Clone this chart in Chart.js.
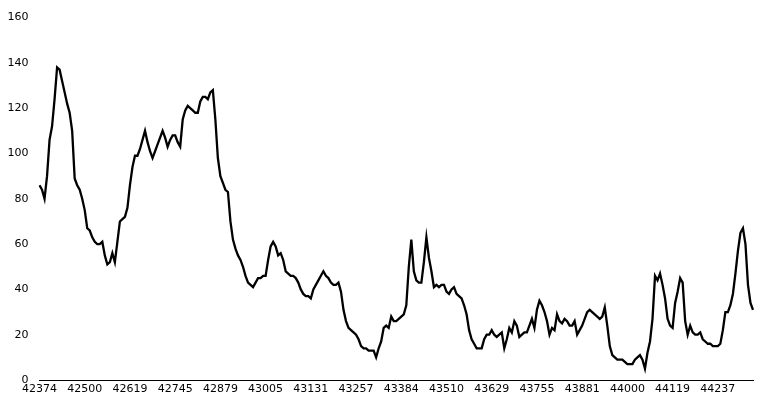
<!DOCTYPE html>
<html>
<head>
<meta charset="utf-8">
<script src="https://cdn.jsdelivr.net/npm/chart.js@4"></script>
<style>
  html, body { margin: 0; padding: 0; background: #fff; }
  #wrap { width: 765px; height: 411px; }
</style>
</head>
<body>
<div id="wrap"><canvas id="mycanvas" width="765" height="411"></canvas></div>
<script>
// tick labels on the x axis (one every 18 points)
var tickLabels = ['42374', '42500', '42619', '42745', '42879', '43005', '43131', '43257',
  '43384', '43510', '43629', '43755', '43881', '44000', '44119', '44237'];
var labelEvery = 18;

// series values
var values = [
  86, 84, 80, 90, 106, 112, 124, 138, 137, 132, 127, 122, 118, 110, 89, 86, 84, 80, 75, 67,
  66, 63, 61, 60, 60, 61, 55, 51, 52, 56, 52, 61, 70, 71, 72, 76, 86, 94, 99, 99,
  102, 106, 110, 105, 101, 98, 101, 104, 107, 110, 107, 103, 106, 108, 108, 105, 103, 115, 119, 121,
  120, 119, 118, 118, 123, 125, 125, 124, 127, 128, 115, 98, 90, 87, 84, 83, 70, 62, 58, 55,
  53, 50, 46, 43, 42, 41, 43, 45, 45, 46, 46, 53, 59, 61, 59, 55, 56, 53, 48, 47,
  46, 46, 45, 43, 40, 38, 37, 37, 36, 40, 42, 44, 46, 48, 46, 45, 43, 42, 42, 43,
  39, 31, 26, 23, 22, 21, 20, 18, 15, 14, 14, 13, 13, 13, 10, 14, 17, 23, 24, 23,
  28, 26, 26, 27, 28, 29, 33, 50, 62, 48, 44, 43, 43, 52, 63, 54, 48, 41, 42, 41,
  42, 42, 39, 38, 40, 41, 38, 37, 36, 33, 29, 22, 18, 16, 14, 14, 14, 18, 20, 20,
  22, 20, 19, 20, 21, 14, 18, 23, 21, 26, 24, 19, 20, 21, 21, 24, 27, 23, 31, 35,
  33, 30, 26, 20, 23, 22, 29, 26, 25, 27, 26, 24, 24, 26, 20, 22, 24, 27, 30, 31,
  30, 29, 28, 27, 28, 32, 24, 15, 11, 10, 9, 9, 9, 8, 7, 7, 7, 9, 10, 11,
  9, 5, 12, 17, 27, 46, 44, 47, 42, 36, 27, 24, 23, 34, 39, 45, 43, 26, 20, 24,
  21, 20, 20, 21, 18, 17, 16, 16, 15, 15, 15, 16, 22, 30, 30, 33, 38, 47, 57, 65,
  67, 60, 42, 34, 31
];

var categories = values.map(function(v, i) { return i; });
var tickFont = { family: 'DejaVu Sans', size: 11 };

var ctx = document.getElementById('mycanvas');
var lineGraph = new Chart(ctx, {
  type: 'line',
  data: {
    labels: categories,
    datasets: [{
      data: values,
      borderColor: '#000',
      borderWidth: 2.3,
      pointRadius: 0,
      tension: 0,
      fill: false
    }]
  },
  options: {
    responsive: false,
    animation: false,
    layout: { padding: { left: 0, right: 12, top: 15, bottom: 0 } },
    plugins: { legend: { display: false }, tooltip: { enabled: false } },
    scales: {
      x: {
        type: 'category',
        offset: false,
        grid: { display: false, drawTicks: false },
        border: { display: true, color: '#000', width: 1 },
        ticks: {
          autoSkip: false,
          maxRotation: 0,
          padding: 3,
          color: '#000',
          font: tickFont,
          callback: function(v, i) {
            return i % labelEvery === 0 ? tickLabels[i / labelEvery] : '';
          }
        },
        afterFit: function(s) { s.height = 31; }
      },
      y: {
        min: 0,
        max: 160,
        grid: { display: false, drawTicks: false },
        border: { display: false },
        ticks: { stepSize: 20, padding: 11, color: '#000', font: tickFont },
        afterFit: function(s) { s.width = 39.5; }
      }
    }
  }
});
</script>
</body>
</html>
